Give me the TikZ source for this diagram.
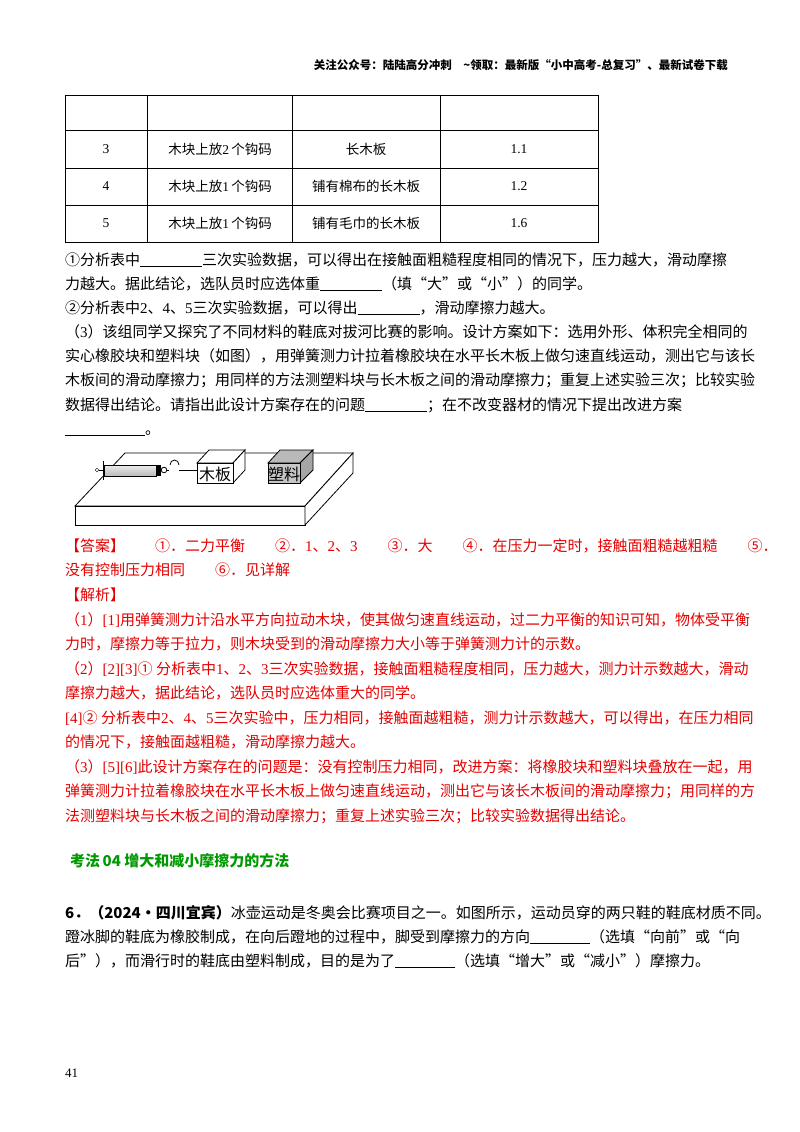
\documentclass[tikz,border=0pt]{standalone}
\usepackage{fontspec}
\setmainfont{Noto Sans CJK SC}
\newfontfamily\lat{Liberation Serif}
\begin{document}
\begin{tikzpicture}[x=1pt,y=-1pt,
 ln/.style={anchor=base west,inner sep=0pt,font=\fontsize{15}{15}\selectfont},
 rd/.style={ln,text=red!90!black},
 cell/.style={font=\fontsize{13.5}{13}\selectfont,inner sep=0pt}]
\useasboundingbox (0,0) rectangle (800,1132);
\fill[white] (0,0) rectangle (800,1132);
\newcommand{\bl}[1]{\underline{\hspace{#1pt}}}
\node[anchor=base east,inner sep=0pt,font=\fontsize{11.5}{12}\selectfont\bfseries] (hd) at (728,70) {关注公众号：陆陆高分冲刺\quad\~{}领取：最新版“小中高考-总复习”、最新试卷下载};
% table
\draw[line width=0.8pt] (65,95) rectangle (598,242);
\foreach \y in {130,168,205} \draw[line width=0.8pt] (65,\y)--(598,\y);
\foreach \x in {147,292,440} \draw[line width=0.8pt] (\x,95)--(\x,242);
\node[cell] (c31) at (106,149) {\lat 3}; \node[cell] (c32) at (220,149) {木块上放\lat 2\,\rm 个钩码};
\node[cell] (c33) at (366,149) {长木板}; \node[cell] (c34) at (519,149) {\lat 1.1};
\node[cell] (c41) at (106,186) {\lat 4}; \node[cell] (c42) at (220,186) {木块上放\lat 1\,\rm 个钩码};
\node[cell] (c43) at (366,186) {铺有棉布的长木板}; \node[cell] (c44) at (519,186) {\lat 1.2};
\node[cell] (c51) at (106,223) {\lat 5}; \node[cell] (c52) at (220,223) {木块上放\lat 1\,\rm 个钩码};
\node[cell] (c53) at (366,223) {铺有毛巾的长木板}; \node[cell] (c54) at (519,223) {\lat 1.6};
% text
\node[ln] (l1) at (65,265) {①分析表中\bl{62}三次实验数据，可以得出在接触面粗糙程度相同的情况下，压力越大，滑动摩擦};
\node[ln] (l2) at (65,289) {力越大。据此结论，选队员时应选体重\bl{62}（填“大”或“小”）的同学。};
\node[ln] (l3) at (65,313) {②分析表中\lat 2\rm 、\lat 4\rm 、\lat 5\rm 三次实验数据，可以得出\bl{62}，滑动摩擦力越大。};
\node[ln] (l4) at (65,337) {（\lat 3\rm ）该组同学又探究了不同材料的鞋底对拔河比赛的影响。设计方案如下：选用外形、体积完全相同的};
\node[ln] (l5) at (65,361) {实心橡胶块和塑料块（如图），用弹簧测力计拉着橡胶块在水平长木板上做匀速直线运动，测出它与该长};
\node[ln] (l6) at (65,385) {木板间的滑动摩擦力；用同样的方法测塑料块与长木板之间的滑动摩擦力；重复上述实验三次；比较实验};
\node[ln] (l7) at (65,410) {数据得出结论。请指出此设计方案存在的问题\bl{62}；在不改变器材的情况下提出改进方案};
\node[ln] (l8) at (65,434) {\bl{80}。};
% figure
\draw[thick,fill=white] (75,506)--(125,453)--(353,453)--(305,506)--cycle;
\draw[thick,fill=white] (75,506) rectangle (305,525);
\draw[thick,fill=white] (305,506)--(353,453)--(353,473)--(305,525)--cycle;
\draw[thick,fill=white] (197,463)--(209,450)--(245,450)--(233,463)--cycle;
\draw[thick,fill=white] (233,463)--(245,450)--(245,470)--(233,483)--cycle;
\draw[thick,fill=white] (197,463) rectangle (233,483);
\node[inner sep=0pt,font=\fontsize{16}{16}\selectfont] (mb) at (215,474) {木板};
\draw[thick,fill=gray!55] (268,463)--(280,450)--(313,450)--(300,463)--cycle;
\draw[thick,fill=gray!70] (300,463)--(313,450)--(313,470)--(300,483)--cycle;
\draw[thick,fill=gray!45] (268,463) rectangle (300,483);
\node[inner sep=0pt,font=\fontsize{16}{16}\selectfont] (sl) at (284,474) {塑料};
\shade[top color=gray!15,bottom color=gray!55,draw=black] (104,465) rectangle (156,476);
\fill[black] (156,465) rectangle (161,476);
\draw[thick] (103,461)--(103,480); \draw (99,470)--(103,470); \draw (97,470) circle (1.8);
\draw[thick] (164,470) circle (2.8); \draw[thick] (166.8,470)--(169,470);
\draw[thick] (170,465) arc (180:360:4.5 and 5)--(179,465); \draw[thick] (179,470)--(197,470);
% answer
\node[rd] (a1) at (65,551) {【答案】\qquad ①．二力平衡\qquad ②．\lat 1\rm 、\lat 2\rm 、\lat 3\qquad \rm ③．大\qquad ④．在压力一定时，接触面粗糙越粗糙\qquad ⑤．};
\node[rd] (a2) at (65,575) {没有控制压力相同\qquad ⑥．见详解};
\node[rd] (a3) at (65,600) {【解析】};
\node[rd] (a4) at (65,625) {（\lat 1\rm ）\lat [1]\rm 用弹簧测力计沿水平方向拉动木块，使其做匀速直线运动，过二力平衡的知识可知，物体受平衡};
\node[rd] (a5) at (65,649) {力时，摩擦力等于拉力，则木块受到的滑动摩擦力大小等于弹簧测力计的示数。};
\node[rd] (a6) at (65,674) {（\lat 2\rm ）\lat [2][3]\rm ① 分析表中\lat 1\rm 、\lat 2\rm 、\lat 3\rm 三次实验数据，接触面粗糙程度相同，压力越大，测力计示数越大，滑动};
\node[rd] (a7) at (65,698) {摩擦力越大，据此结论，选队员时应选体重大的同学。};
\node[rd] (a8) at (65,723) {\lat [4]\rm ② 分析表中\lat 2\rm 、\lat 4\rm 、\lat 5\rm 三次实验中，压力相同，接触面越粗糙，测力计示数越大，可以得出，在压力相同};
\node[rd] (a9) at (65,747) {的情况下，接触面越粗糙，滑动摩擦力越大。};
\node[rd] (a10) at (65,772) {（\lat 3\rm ）\lat [5][6]\rm 此设计方案存在的问题是：没有控制压力相同，改进方案：将橡胶块和塑料块叠放在一起，用};
\node[rd] (a11) at (65,796) {弹簧测力计拉着橡胶块在水平长木板上做匀速直线运动，测出它与该长木板间的滑动摩擦力；用同样的方};
\node[rd] (a12) at (65,821) {法测塑料块与长木板之间的滑动摩擦力；重复上述实验三次；比较实验数据得出结论。};
\node[ln,font=\fontsize{15}{14}\selectfont\bfseries,text=green!60!black] (h) at (70,866) {考法\,04\ 增大和减小摩擦力的方法};
\node[ln] (q1) at (65,918) {\textbf{6．（2024·四川宜宾）}冰壶运动是冬奥会比赛项目之一。如图所示，运动员穿的两只鞋的鞋底材质不同。};
\node[ln] (q2) at (65,942) {蹬冰脚的鞋底为橡胶制成，在向后蹬地的过程中，脚受到摩擦力的方向\bl{60}（选填“向前”或“向};
\node[ln] (q3) at (65,966) {后”），而滑行时的鞋底由塑料制成，目的是为了\bl{60}（选填“增大”或“减小”）摩擦力。};
\node[ln,font=\fontsize{13}{13}\selectfont\lat] (pg) at (65,1077) {41};
\end{tikzpicture}
\end{document}
